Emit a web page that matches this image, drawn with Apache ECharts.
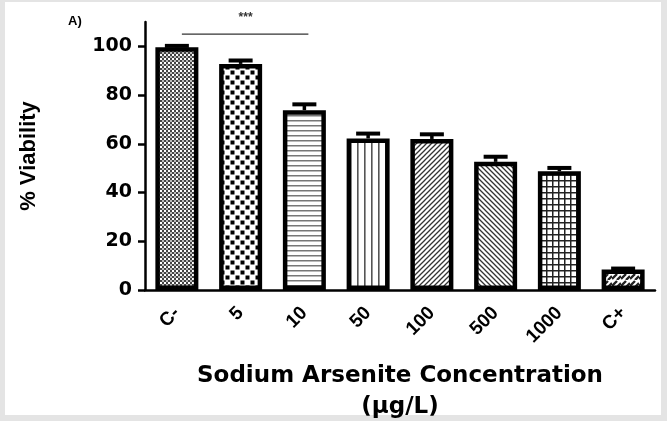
<!DOCTYPE html>
<html>
<head>
<meta charset="utf-8">
<script src="https://cdn.jsdelivr.net/npm/echarts@6/dist/echarts.min.js"></script>
<style>
  html,body{margin:0;padding:0;background:#e4e4e4;}
  #wrap{position:absolute;left:5px;top:2px;width:656px;height:413px;background:#fff;}
  #chart{position:absolute;left:-5px;top:-2px;width:667px;height:421px;}
</style>
</head>
<body>
<div id="wrap"><div id="chart"></div></div>
<script>
  // 数据
  const categories = ['C-', '5', '10', '50', '100', '500', '1000', 'C+'];
  const viability = [99.6, 92.8, 73.8, 62.2, 62.0, 52.6, 48.7, 8.4];
  const errUp = [0.6, 1.4, 2.4, 2.0, 1.9, 2.1, 1.4, 0.4];
  const yTicks = [0, 20, 40, 60, 80, 100];
  const sigFrom = 'C-', sigTo = '10', sigLevel = 105, sigText = '***';

  // 填充图案
  const mk = (w, h, draw) => {
    const c = document.createElement('canvas');
    c.width = w; c.height = h;
    const ctx = c.getContext('2d');
    ctx.fillStyle = '#fff'; ctx.fillRect(0, 0, w, h);
    draw(ctx, w, h);
    return { image: c, repeat: 'repeat' };
  };
  const patterns = [
    mk(4, 4, (g) => { g.fillStyle = '#444'; g.fillRect(0, 0, 2, 2); g.fillRect(2, 2, 2, 2); g.fillStyle = '#bbb'; g.fillRect(2, 0, 2, 2); }),
    mk(10, 10, (g) => { g.fillStyle = '#000'; g.fillRect(0.5, 0.5, 4, 4); g.fillRect(5.5, 5.5, 4, 4); }),
    mk(6, 5, (g) => { g.fillStyle = '#777'; g.fillRect(0, 0, 6, 1.5); }),
    mk(7, 6, (g) => { g.fillStyle = '#555'; g.fillRect(0, 0, 1.6, 6); }),
    mk(5, 5, (g) => { g.strokeStyle = '#333'; g.lineWidth = 1.3; g.beginPath(); g.moveTo(-1, 6); g.lineTo(6, -1); g.moveTo(-1, 1); g.lineTo(1, -1); g.moveTo(4, 6); g.lineTo(6, 4); g.stroke(); }),
    mk(5, 5, (g) => { g.strokeStyle = '#333'; g.lineWidth = 1.3; g.beginPath(); g.moveTo(-1, -1); g.lineTo(6, 6); g.moveTo(4, -1); g.lineTo(6, 1); g.moveTo(-1, 4); g.lineTo(1, 6); g.stroke(); }),
    mk(6, 6, (g) => { g.fillStyle = '#222'; g.fillRect(0, 0, 6, 1.5); g.fillRect(0, 0, 1.5, 6); }),
    mk(9, 7, (g) => { g.strokeStyle = '#222'; g.lineWidth = 2.4; g.beginPath(); g.moveTo(0, 6); g.lineTo(5, 1); g.moveTo(5, 7); g.lineTo(9, 3); g.stroke(); })
  ];

  const chart = echarts.init(document.getElementById('chart'));
  const font = 'Liberation Sans, Arial, sans-serif';
  const wide = 'DejaVu Sans, sans-serif';

  chart.setOption({
    backgroundColor: 'transparent',
    animation: false,
    grid: { left: 145, right: 12, top: 22, bottom: 131, outerBoundsMode: 'none' },
    xAxis: {
      type: 'category',
      data: categories,
      axisLine: { lineStyle: { color: '#000', width: 2.5 } },
      axisTick: { alignWithLabel: true, length: 7, lineStyle: { color: '#000', width: 2.5 } },
      axisLabel: { rotate: 45, margin: 20, color: '#000', fontFamily: font, fontWeight: 'bold', fontSize: 19 },
      name: 'Sodium Arsenite Concentration\n(μg/L)',
      nameLocation: 'middle',
      nameGap: 71,
      nameTextStyle: { color: '#000', fontFamily: wide, fontWeight: 'bold', fontSize: 23, lineHeight: 31, verticalAlign: 'top' }
    },
    yAxis: {
      type: 'value',
      min: 0,
      max: 110,
      interval: 10,
      splitLine: { show: false },
      axisLine: { show: true, lineStyle: { color: '#000', width: 2.5 } },
      axisTick: { show: true, length: 7, customValues: yTicks, lineStyle: { color: '#000', width: 2.5 } },
      axisLabel: { customValues: yTicks, margin: 13, color: '#000', fontFamily: wide, fontWeight: 'bold', fontSize: 19 },
      name: '% Viability',
      nameLocation: 'middle',
      nameGap: 105,
      nameTextStyle: { color: '#000', fontFamily: font, fontWeight: 'bold', fontSize: 22 }
    },
    graphic: [
      { type: 'text', left: 68, top: 15, style: { text: 'A)', fontFamily: font, fontWeight: 'bold', fontSize: 13, fill: '#000' } }
    ],
    series: [
      {
        type: 'bar',
        barWidth: 43,
        data: viability.map((v, i) => ({ value: v, itemStyle: { color: patterns[i] } })),
        itemStyle: { borderColor: '#000', borderWidth: 4.5 },
        z: 2
      },
      {
        type: 'custom',
        z: 3,
        data: viability.map((v, i) => [i, v, v + errUp[i]]),
        renderItem: (params, api) => {
          const lo = api.coord([api.value(0), api.value(1)]);
          const hi = api.coord([api.value(0), api.value(2)]);
          const hw = 12;
          return {
            type: 'group',
            children: [
              { type: 'line', shape: { x1: lo[0], y1: lo[1], x2: hi[0], y2: hi[1] }, style: { stroke: '#000', lineWidth: 3.5 } },
              { type: 'line', shape: { x1: hi[0] - hw, y1: hi[1], x2: hi[0] + hw, y2: hi[1] }, style: { stroke: '#000', lineWidth: 4 } }
            ]
          };
        }
      },
      {
        type: 'custom',
        z: 3,
        data: [[categories.indexOf(sigFrom), categories.indexOf(sigTo), sigLevel]],
        renderItem: (params, api) => {
          const a = api.coord([api.value(0), api.value(2)]);
          const b = api.coord([api.value(1), api.value(2)]);
          return {
            type: 'group',
            children: [
              { type: 'line', shape: { x1: a[0] + 5, y1: a[1], x2: b[0] + 4, y2: b[1] }, style: { stroke: '#333', lineWidth: 1.2 } },
              { type: 'text', x: (a[0] + b[0]) / 2 + 5, y: a[1] - 16, style: { text: sigText, fontFamily: font, fontSize: 12, fontWeight: 'bold', fill: '#333', align: 'center', verticalAlign: 'middle' } }
            ]
          };
        }
      }
    ]
  });
</script>
</body>
</html>
